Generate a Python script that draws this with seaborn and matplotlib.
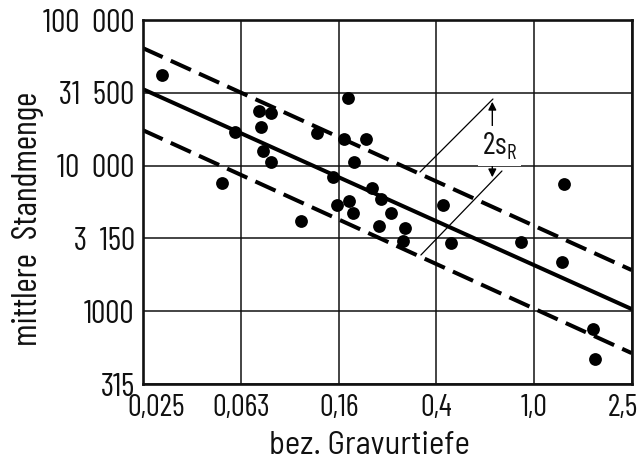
import matplotlib
matplotlib.use("Agg")
import matplotlib.pyplot as plt
import matplotlib.transforms as mtransforms
import seaborn as sns

# data (log-log)
gravur_depth = [0.030, 0.053, 0.060, 0.075, 0.084, 0.076, 0.078, 0.084, 0.111, 0.129,
                0.173, 0.167, 0.206, 0.183, 0.150, 0.218, 0.236, 0.174, 0.156, 0.182,
                0.259, 0.232, 0.296, 0.291, 0.422, 0.455, 0.883, 1.33, 1.30, 1.745, 1.78]
tool_life = [41900, 7630, 17100, 23700, 22900, 18300, 12600, 10600, 4180, 16800,
             29000, 15200, 15200, 10600, 8310, 6990, 5870, 5740, 5360, 4750,
             4700, 3870, 3710, 3040, 5360, 2940, 3000, 7480, 2190, 751, 467]

# regression line and +/- s_R band (end points)
line_x = [0.025, 2.5]
line_mid = [33600, 1036]
line_upper = [64300, 1918]
line_lower = [17560, 516]

x_ticks = [10 ** -1.6, 10 ** -1.2, 10 ** -0.8, 10 ** -0.4, 1.0, 10 ** 0.4]
x_labels = ["0,025", "0,063", "0,16", "0,4", "1,0", "2,5"]
y_ticks = [10 ** 2.5, 1000, 10 ** 3.5, 10000, 10 ** 4.5, 100000]
y_labels = ["315", "1000", "3  150", "10  000", "31  500", "100  000"]

sns.set_style("white")
plt.rcParams["font.family"] = ["Barlow Condensed", "DejaVu Sans"]
plt.rcParams["mathtext.fontset"] = "custom"
plt.rcParams["mathtext.rm"] = "Barlow Condensed"

fig = plt.figure(figsize=(6.43, 4.63), dpi=100)
ax = fig.add_axes([0.2224, 0.1706, 0.7605, 0.7862])
ax.set(xscale="log", yscale="log")

sns.lineplot(x=line_x, y=line_mid, ax=ax, color="black", lw=2.9)
for band in (line_upper, line_lower):
    sns.lineplot(x=line_x, y=band, ax=ax, color="black", lw=2.9,
                 dashes=False, linestyle=(0, (5.5, 2.2)))
sns.scatterplot(x=gravur_depth, y=tool_life, ax=ax, color="black", s=85,
                linewidth=0, zorder=5)

ax.set_xlim(x_ticks[0], x_ticks[-1])
ax.set_ylim(y_ticks[0], y_ticks[-1])
ax.minorticks_off()
ax.set_xticks(x_ticks)
ax.set_xticklabels(x_labels)
ax.set_yticks(y_ticks)
ax.set_yticklabels(y_labels)
ax.tick_params(length=0, colors="#111111")
ax.tick_params(axis="x", pad=7, labelsize=22)
ax.tick_params(axis="y", pad=6, labelsize=23)
ax.grid(True, color="#111111", lw=1.1)
for s in ax.spines.values():
    s.set_visible(True)
    s.set_linewidth(1.9)
    s.set_color("#111111")

# nudge outer x labels inward like the original
labs = ax.get_xticklabels()
labs[0].set_transform(labs[0].get_transform() + mtransforms.ScaledTranslation(0.13, 0, fig.dpi_scale_trans))
labs[-1].set_transform(labs[-1].get_transform() + mtransforms.ScaledTranslation(-0.09, 0, fig.dpi_scale_trans))

ax.set_xlabel("bez. Gravurtiefe", fontsize=23.5, color="#111111",
              family=["Barlow Semi Condensed", "Barlow Condensed", "DejaVu Sans"])
ax.set_ylabel("mittlere  Standmenge", fontsize=25, color="#111111")
ax.xaxis.set_label_coords(0.464, -0.128)
ax.yaxis.set_label_coords(-0.202, 0.455)

# 2 s_R dimension marker
ax.plot([0.341, 0.678], [9036, 28670], color="black", lw=0.9)
ax.plot([0.344, 0.738], [2432, 9183], color="black", lw=0.9)
ax.annotate("", xy=(0.674, 28670), xytext=(0.674, 18000),
            arrowprops=dict(arrowstyle="-|>", color="black", lw=1.0, mutation_scale=12))
ax.annotate("", xy=(0.674, 7960), xytext=(0.674, 11300),
            arrowprops=dict(arrowstyle="-|>", color="black", lw=1.0, mutation_scale=12))
ax.text(0.72, 13600, r"2s$_\mathregular{R}$", fontsize=22, ha="center", va="center",
        color="#111111", bbox=dict(fc="white", ec="none", pad=3))

fig.savefig("out.png", dpi=100)
